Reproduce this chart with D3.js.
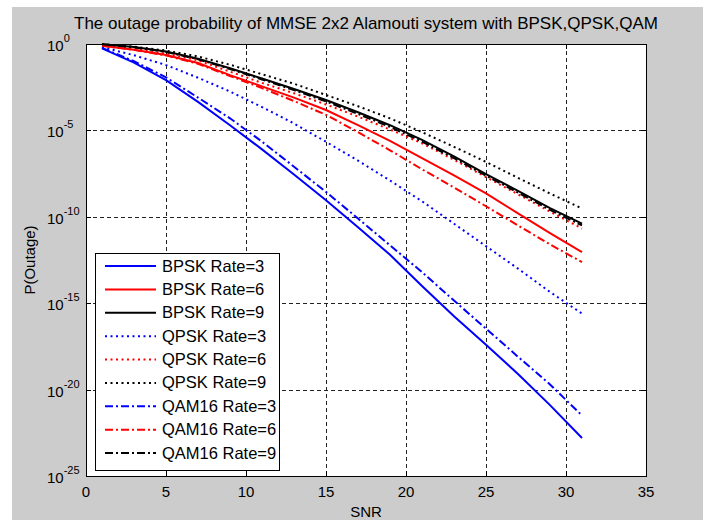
<!DOCTYPE html>
<html>
<head>
<meta charset="utf-8">
<script src="https://cdn.jsdelivr.net/npm/d3@7"></script>
<style>
  body { margin: 0; background: #fff; }
  text { font-family: "Liberation Sans", Arial, sans-serif; fill: #000; }
</style>
</head>
<body>
<div id="chart"></div>
<script>
// SNR points the curves were read at
const snr = [1, 3, 5, 7, 9, 11, 13, 15, 17, 19, 21, 23, 25, 27, 29, 31];

// log10 of P(Outage)
const bpsk3  = [-0.25, -1.08, -2.09, -3.35, -4.7, -6.1, -7.55, -9.04, -10.6, -12.2, -14.0, -15.75, -17.4, -19.1, -20.9, -22.8];
const bpsk6  = [-0.1, -0.33, -0.64, -1.1, -1.8, -2.45, -3.1, -3.82, -4.7, -5.6, -6.6, -7.6, -8.65, -9.8, -10.95, -12.05];
const bpsk9  = [-0.02, -0.18, -0.44, -0.85, -1.4, -2.0, -2.6, -3.24, -3.95, -4.7, -5.55, -6.5, -7.53, -8.5, -9.5, -10.4];
const qpsk3  = [-0.18, -0.65, -1.22, -1.95, -2.75, -3.65, -4.6, -5.66, -6.75, -7.9, -9.1, -10.4, -11.7, -13.0, -14.35, -15.6];
const qpsk6  = [-0.08, -0.28, -0.55, -0.95, -1.6, -2.25, -2.85, -3.5, -4.2, -4.95, -5.75, -6.7, -7.7, -8.7, -9.7, -10.68];
const qpsk9  = [-0.01, -0.15, -0.38, -0.72, -1.2, -1.75, -2.3, -2.95, -3.6, -4.3, -5.1, -5.95, -6.82, -7.75, -8.65, -9.52];
const qam3   = [-0.22, -1.0, -1.93, -3.1, -4.3, -5.65, -7.1, -8.56, -10.1, -11.65, -13.2, -14.85, -16.47, -18.1, -19.7, -21.5];
const qam6   = [-0.1, -0.34, -0.66, -1.15, -1.85, -2.55, -3.3, -4.1, -5.1, -6.15, -7.25, -8.3, -9.39, -10.5, -11.6, -12.62];
const qam9   = [-0.02, -0.19, -0.46, -0.88, -1.45, -2.05, -2.67, -3.32, -4.05, -4.8, -5.65, -6.6, -7.62, -8.6, -9.6, -10.5];

const seriesNames = ['BPSK Rate=3', 'BPSK Rate=6', 'BPSK Rate=9',
                     'QPSK Rate=3', 'QPSK Rate=6', 'QPSK Rate=9',
                     'QAM16 Rate=3', 'QAM16 Rate=6', 'QAM16 Rate=9'];
const seriesValues = [bpsk3, bpsk6, bpsk9, qpsk3, qpsk6, qpsk9, qam3, qam6, qam9];

const xTicks = [0, 5, 10, 15, 20, 25, 30, 35];
const yTickExp = [0, -5, -10, -15, -20, -25];

const colors = ['#0000ff', '#ff0000', '#000000'];
const dashes = [null, '2,3.5', '8,3,2,3'];

const width = 710, height = 520;
const plot = { left: 86, right: 646, top: 44, bottom: 476 };

const svg = d3.select('#chart').append('svg')
  .attr('width', width)
  .attr('height', height);

// figure background
svg.append('rect')
  .attr('x', 12).attr('y', 7)
  .attr('width', 691).attr('height', 513)
  .attr('fill', '#cccccc');

const x = d3.scaleLinear().domain([0, 35]).range([plot.left, plot.right]);
const y = d3.scaleLog().domain([1e-25, 1]).range([plot.bottom, plot.top]);

svg.append('rect')
  .attr('x', plot.left).attr('y', plot.top)
  .attr('width', plot.right - plot.left).attr('height', plot.bottom - plot.top)
  .attr('fill', '#fff');

// dashed grid
const grid = svg.append('g')
  .attr('stroke', '#222').attr('stroke-width', 1).attr('stroke-dasharray', '4,3');
grid.selectAll('line.gx')
  .data(xTicks.slice(1, -1))
  .enter().append('line')
  .attr('x1', d => Math.round(x(d)) + 0.5).attr('x2', d => Math.round(x(d)) + 0.5)
  .attr('y1', plot.top).attr('y2', plot.bottom);
grid.selectAll('line.gy')
  .data(yTickExp.slice(1, -1))
  .enter().append('line')
  .attr('y1', d => Math.round(y(Math.pow(10, d))) + 0.5).attr('y2', d => Math.round(y(Math.pow(10, d))) + 0.5)
  .attr('x1', plot.left).attr('x2', plot.right);

// curves
const line = d3.line()
  .x(d => x(d[0]))
  .y(d => y(Math.pow(10, d[1])));

svg.append('clipPath').attr('id', 'clip')
  .append('rect')
  .attr('x', plot.left).attr('y', plot.top - 2)
  .attr('width', plot.right - plot.left).attr('height', plot.bottom - plot.top + 2);

const curves = svg.append('g').attr('clip-path', 'url(#clip)');
seriesValues.forEach((vals, i) => {
  curves.append('path')
    .datum(snr.map((s, j) => [s, vals[j]]))
    .attr('fill', 'none')
    .attr('stroke', colors[i % 3])
    .attr('stroke-width', 2)
    .attr('stroke-dasharray', dashes[Math.floor(i / 3)])
    .attr('d', line);
});

// ticks on all four sides, pointing inward
const tickLen = 5;
const ticks = svg.append('g').attr('stroke', '#000').attr('stroke-width', 1);
xTicks.forEach(t => {
  const px = Math.round(x(t)) + 0.5;
  ticks.append('line').attr('x1', px).attr('x2', px).attr('y1', plot.bottom).attr('y2', plot.bottom - tickLen);
  ticks.append('line').attr('x1', px).attr('x2', px).attr('y1', plot.top).attr('y2', plot.top + tickLen);
});
yTickExp.forEach(t => {
  const py = Math.round(y(Math.pow(10, t))) + 0.5;
  ticks.append('line').attr('y1', py).attr('y2', py).attr('x1', plot.left).attr('x2', plot.left + tickLen);
  ticks.append('line').attr('y1', py).attr('y2', py).attr('x1', plot.right).attr('x2', plot.right - tickLen);
});

// axes box
svg.append('rect')
  .attr('x', plot.left + 0.5).attr('y', plot.top + 0.5)
  .attr('width', plot.right - plot.left).attr('height', plot.bottom - plot.top)
  .attr('fill', 'none').attr('stroke', '#000').attr('stroke-width', 1);

// tick labels
svg.selectAll('text.xt')
  .data(xTicks)
  .enter().append('text')
  .attr('class', 'xt')
  .attr('x', d => x(d))
  .attr('y', plot.bottom + 21)
  .attr('text-anchor', 'middle')
  .style('font-size', '15px')
  .text(d => d);

const yl = svg.selectAll('text.yt')
  .data(yTickExp)
  .enter().append('text')
  .attr('class', 'yt')
  .attr('x', 47)
  .attr('y', d => y(Math.pow(10, d)) + 7)
  .style('font-size', '15px');
yl.append('tspan').text('10');
yl.append('tspan')
  .attr('dy', -9)
  .style('font-size', '11px')
  .text(d => d);

// axis titles
svg.append('text')
  .attr('x', (plot.left + plot.right) / 2)
  .attr('y', 517)
  .attr('text-anchor', 'middle')
  .style('font-size', '15px')
  .text('SNR');

svg.append('text')
  .attr('transform', `translate(35, ${(plot.top + plot.bottom) / 2}) rotate(-90)`)
  .attr('text-anchor', 'middle')
  .style('font-size', '15px')
  .text('P(Outage)');

svg.append('text')
  .attr('x', (plot.left + plot.right) / 2)
  .attr('y', 29)
  .attr('text-anchor', 'middle')
  .style('font-size', '17px')
  .text('The outage probability of MMSE 2x2 Alamouti system with BPSK,QPSK,QAM');

// legend
const legend = svg.append('g');
legend.append('rect')
  .attr('x', 95.5).attr('y', 253.5)
  .attr('width', 184).attr('height', 217)
  .attr('fill', '#fff').attr('stroke', '#000').attr('stroke-width', 1);

const rowY = d3.scaleLinear().domain([0, 8]).range([266, 453]);
seriesNames.forEach((name, i) => {
  const yy = rowY(i);
  legend.append('line')
    .attr('x1', 105).attr('x2', 156)
    .attr('y1', yy).attr('y2', yy)
    .attr('stroke', colors[i % 3])
    .attr('stroke-width', 2)
    .attr('stroke-dasharray', dashes[Math.floor(i / 3)]);
  legend.append('text')
    .attr('x', 162)
    .attr('y', yy + 5.5)
    .style('font-size', '16.5px')
    .text(name);
});
</script>
</body>
</html>
